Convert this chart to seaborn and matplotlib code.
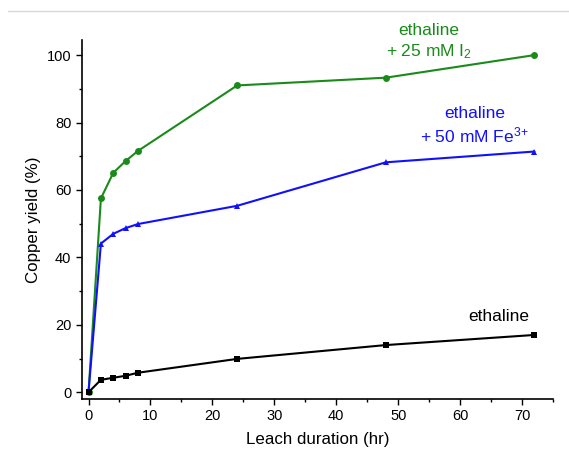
import pandas as pd
import matplotlib.pyplot as plt
import seaborn as sns
from matplotlib.lines import Line2D
from matplotlib.ticker import MultipleLocator

hours = [0, 2, 4, 6, 8, 24, 48, 72]
iodine = [0, 57.5, 65.1, 68.6, 71.6, 91.0, 93.3, 100.0]
iron = [0, 44.1, 47.0, 48.7, 49.9, 55.3, 68.2, 71.4]
plain = [0, 3.7, 4.3, 4.9, 5.8, 9.9, 14.0, 17.0]

sns.set_style("ticks", {'axes.edgecolor': 'black', 'text.color': 'black',
                        'xtick.color': 'black', 'ytick.color': 'black',
                        'axes.labelcolor': 'black'})
plt.rcParams['font.family'] = ['Liberation Sans', 'DejaVu Sans']
plt.rcParams['mathtext.fontset'] = 'custom'
plt.rcParams['mathtext.rm'] = 'Liberation Sans'
plt.rcParams['mathtext.it'] = 'Liberation Sans'

fig = plt.figure(figsize=(5.69, 4.5), dpi=100)
ax = fig.add_axes([0.1436, 0.1133, 0.8284, 0.798])

sns.lineplot(x=hours, y=iodine, ax=ax, color='#1a8a1a', marker='o',
             markersize=5, markeredgewidth=0, linewidth=1.5)
sns.lineplot(x=hours, y=iron, ax=ax, color='#1010ff', marker='^',
             markersize=5, markeredgewidth=0, linewidth=1.5)
sns.lineplot(x=hours, y=plain, ax=ax, color='black', marker='s',
             markersize=4.5, markeredgewidth=0, linewidth=1.5)

ax.set_xlim(-1.1, 75)
ax.set_ylim(-2, 104.5)
ax.xaxis.set_major_locator(MultipleLocator(10))
ax.xaxis.set_minor_locator(MultipleLocator(5))
ax.yaxis.set_major_locator(MultipleLocator(20))
ax.yaxis.set_minor_locator(MultipleLocator(10))
ax.tick_params(which='major', length=4, width=1, labelsize=10.5, direction='out')
ax.tick_params(which='minor', length=2.5, width=1, direction='out')
for s in ['top', 'right']:
    ax.spines[s].set_visible(False)
for s in ['left', 'bottom']:
    ax.spines[s].set_linewidth(1.2)

ax.set_xlabel('Leach duration (hr)', fontsize=12.2, labelpad=6)
ax.set_ylabel('Copper yield (%)', fontsize=12.2)

ax.text(55, 104, 'ethaline\n+ 25 mM I$_2$', color='#1a8a1a', fontsize=12.5,
        ha='center', va='center', linespacing=1.3, clip_on=False)
ax.text(62.3, 79, 'ethaline\n+ 50 mM Fe$^{3{+}}$', color='#1010ff', fontsize=12.5,
        ha='center', va='center', linespacing=1.3)
ax.text(66.2, 22.5, 'ethaline', color='black', fontsize=12.5,
        ha='center', va='center')

fig.add_artist(Line2D([8 / 569, 1], [1 - 11 / 450, 1 - 11 / 450],
                      color='#d8d8d8', linewidth=1, transform=fig.transFigure))

plt.savefig('out.png', dpi=100)
